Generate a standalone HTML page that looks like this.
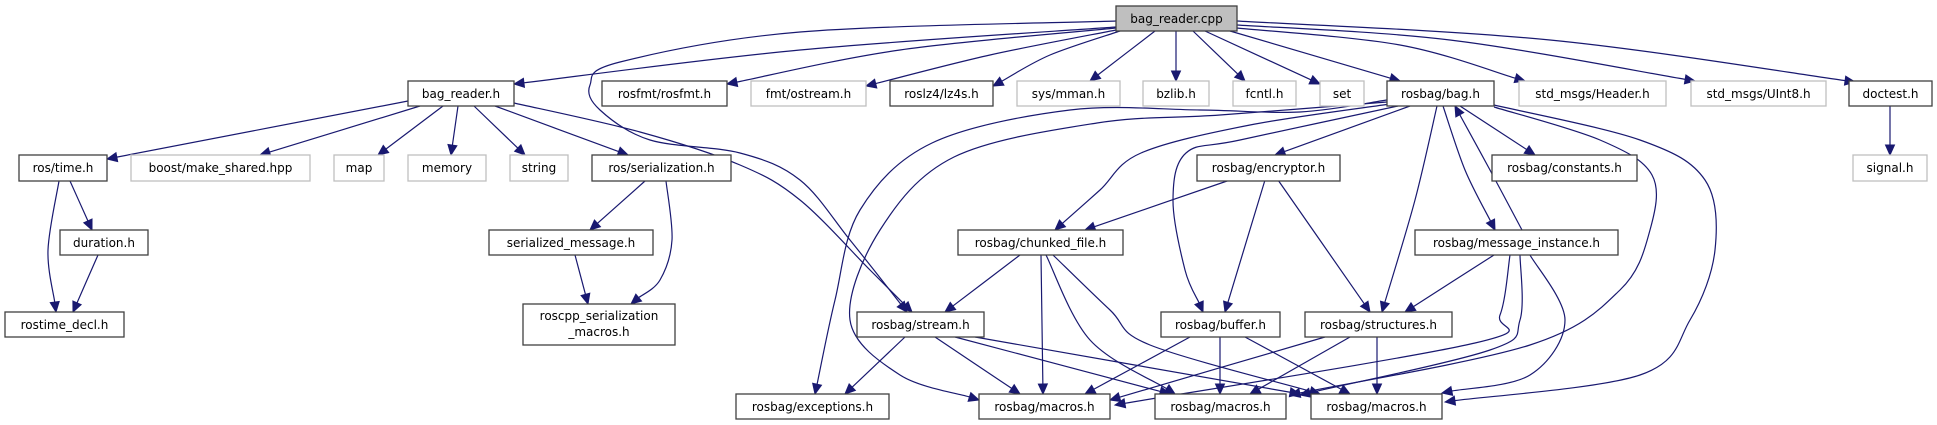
<!DOCTYPE html>
<html><head><meta charset="utf-8"><style>
html,body{margin:0;padding:0;background:#fff;}
svg{display:block;}
text{font-family:"DejaVu Sans","Liberation Sans",sans-serif;font-size:12px;fill:#000;text-anchor:middle;}
.b{fill:#fff;stroke:#404040;stroke-width:1.3;}
.g{fill:#fff;stroke:#bfbfbf;stroke-width:1.3;}
.r{fill:#bfbfbf;stroke:#404040;stroke-width:1.3;}
</style></head><body>
<svg id="s" width="1937" height="425" viewBox="0 0 1937 425" xmlns="http://www.w3.org/2000/svg">
<g id="edges"></g>
<g id="nodes">
<rect class="r" x="1116" y="6" width="121" height="25"/><text x="1176.5" y="23">bag_reader.cpp</text>

<rect class="b" x="408" y="81" width="106" height="25"/><text x="461" y="98">bag_reader.h</text>
<rect class="b" x="602" y="81" width="125" height="25"/><text x="664.5" y="98">rosfmt/rosfmt.h</text>
<rect class="g" x="751" y="81" width="115" height="25"/><text x="808.5" y="98">fmt/ostream.h</text>
<rect class="b" x="890" y="81" width="103" height="25"/><text x="941.5" y="98">roslz4/lz4s.h</text>
<rect class="g" x="1017" y="81" width="103" height="25"/><text x="1068.5" y="98">sys/mman.h</text>
<rect class="g" x="1143" y="81" width="66" height="25"/><text x="1176" y="98">bzlib.h</text>
<rect class="g" x="1233" y="81" width="63" height="25"/><text x="1264.5" y="98">fcntl.h</text>
<rect class="g" x="1320" y="81" width="44" height="25"/><text x="1342" y="98">set</text>
<rect class="b" x="1387" y="81" width="107" height="25"/><text x="1440.5" y="98">rosbag/bag.h</text>
<rect class="g" x="1519" y="81" width="147" height="25"/><text x="1592.5" y="98">std_msgs/Header.h</text>
<rect class="g" x="1691" y="81" width="135" height="25"/><text x="1758.5" y="98">std_msgs/UInt8.h</text>
<rect class="b" x="1849" y="81" width="83" height="25"/><text x="1890.5" y="98">doctest.h</text>

<rect class="b" x="19" y="155" width="88" height="26"/><text x="63" y="172">ros/time.h</text>
<rect class="g" x="131" y="155" width="179" height="26"/><text x="220.5" y="172">boost/make_shared.hpp</text>
<rect class="g" x="334" y="155" width="50" height="26"/><text x="359" y="172">map</text>
<rect class="g" x="408" y="155" width="78" height="26"/><text x="447" y="172">memory</text>
<rect class="g" x="510" y="155" width="58" height="26"/><text x="539" y="172">string</text>
<rect class="b" x="592" y="155" width="139" height="26"/><text x="661.5" y="172">ros/serialization.h</text>
<rect class="b" x="1197" y="155" width="143" height="26"/><text x="1268.5" y="172">rosbag/encryptor.h</text>
<rect class="b" x="1492" y="155" width="145" height="26"/><text x="1564.5" y="172">rosbag/constants.h</text>
<rect class="g" x="1853" y="155" width="74" height="26"/><text x="1890" y="172">signal.h</text>

<rect class="b" x="60" y="230" width="88" height="25"/><text x="104" y="247">duration.h</text>
<rect class="b" x="489" y="230" width="164" height="25"/><text x="571" y="247">serialized_message.h</text>
<rect class="b" x="958" y="230" width="165" height="25"/><text x="1040.5" y="247">rosbag/chunked_file.h</text>
<rect class="b" x="1415" y="230" width="203" height="25"/><text x="1516.5" y="247">rosbag/message_instance.h</text>

<rect class="b" x="5" y="312" width="119" height="25"/><text x="64.5" y="329">rostime_decl.h</text>
<rect class="b" x="523" y="304" width="152" height="41"/><text x="599" y="320">roscpp_serialization</text><text x="599" y="336">_macros.h</text>
<rect class="b" x="857" y="312" width="127" height="25"/><text x="920.5" y="329">rosbag/stream.h</text>
<rect class="b" x="1161" y="312" width="119" height="25"/><text x="1220.5" y="329">rosbag/buffer.h</text>
<rect class="b" x="1305" y="312" width="147" height="25"/><text x="1378.5" y="329">rosbag/structures.h</text>

<rect class="b" x="736" y="394" width="153" height="25"/><text x="812.5" y="411">rosbag/exceptions.h</text>
<rect class="b" x="979" y="394" width="131" height="25"/><text x="1044.5" y="411">rosbag/macros.h</text>
<rect class="b" x="1155" y="394" width="131" height="25"/><text x="1220.5" y="411">rosbag/macros.h</text>
<rect class="b" x="1311" y="394" width="131" height="25"/><text x="1376.5" y="411">rosbag/macros.h</text>
</g>
</svg>
<script>
var E=[
[[1116,27],[800,50],[514,84]],
[[1116,21],[800,32],[620,62],[590,85],[600,110],[650,140],[740,153],[800,180],[850,240],[907,312]],
[[514,103],[640,132],[740,165],[800,200],[870,270],[912,312]],
[[1116,28],[900,50],[727,84]],
[[1116,30],[990,55],[866,86]],
[[1120,31],[1050,55],[993,86]],
[[1155,31],[1090,81]],
[[1176,31],[1176,81]],
[[1193,31],[1245,81]],
[[1205,31],[1320,84]],
[[1230,31],[1400,81]],
[[1237,28],[1400,45],[1525,81]],
[[1237,25],[1450,40],[1695,81]],
[[1237,21],[1550,40],[1855,82]],
[[1890,106],[1890,155]],
[[408,101],[107,159]],
[[420,106],[260,155]],
[[443,106],[378,155]],
[[458,106],[451,155]],
[[474,106],[525,155]],
[[495,106],[628,155]],
[[70,181],[92,230]],
[[59,181],[48,250],[56,312]],
[[98,255],[73,312]],
[[645,181],[590,230]],
[[666,181],[672,240],[660,280],[631,304]],
[[575,255],[588,304]],
[[1387,100],[1300,112],[1200,110],[1070,110],[932,143],[860,210],[835,300],[815,394]],
[[1387,102],[1220,115],[1097,123],[954,157],[880,230],[850,320],[900,375],[979,400]],
[[1390,104],[1250,125],[1141,153],[1100,190],[1055,230]],
[[1410,106],[1275,155]],
[[1398,106],[1240,140],[1186,153],[1173,200],[1185,270],[1203,312]],
[[1437,106],[1415,200],[1382,312]],
[[1443,106],[1465,170],[1495,230]],
[[1522,230],[1490,170],[1455,106]],
[[1460,106],[1535,155]],
[[1494,107],[1600,140],[1652,175],[1650,230],[1620,290],[1530,345],[1290,395]],
[[1494,105],[1640,140],[1705,180],[1715,250],[1690,320],[1640,375],[1445,402]],
[[1494,255],[1405,312]],
[[1510,255],[1500,315],[1475,343],[1115,405]],
[[1520,255],[1520,320],[1490,350],[1300,395]],
[[1530,255],[1565,320],[1530,375],[1442,393]],
[[1230,180],[1085,230]],
[[1265,180],[1225,312]],
[[1278,180],[1370,312]],
[[1020,255],[945,312]],
[[1041,255],[1043,394]],
[[1046,255],[1090,340],[1175,394]],
[[1053,255],[1110,310],[1150,345],[1320,394]],
[[905,337],[845,394]],
[[935,337],[1020,394]],
[[955,337],[1170,394]],
[[975,337],[1300,394]],
[[1190,337],[1085,394]],
[[1220,337],[1220,394]],
[[1245,337],[1350,394]],
[[1325,337],[1110,400]],
[[1350,337],[1250,394]],
[[1377,337],[1377,394]]
];
var g=document.getElementById('edges'),h='';
E.forEach(function(p){
 var n=p.length,a=p[n-2],b=p[n-1],dx=b[0]-a[0],dy=b[1]-a[1],L=Math.sqrt(dx*dx+dy*dy),ux=dx/L,uy=dy/L,AL=10;
 var q=p.map(function(x){return x.slice();});
 q[n-1]=[b[0]-ux*AL,b[1]-uy*AL];
 var d='M'+q[0][0]+','+q[0][1];
 for(var i=0;i<n-1;i++){
  var p0=q[i-1]||q[i],p1=q[i],p2=q[i+1],p3=q[i+2]||q[i+1];
  var c1=[p1[0]+(p2[0]-p0[0])/6,p1[1]+(p2[1]-p0[1])/6],c2=[p2[0]-(p3[0]-p1[0])/6,p2[1]-(p3[1]-p1[1])/6];
  d+=' C'+c1[0]+','+c1[1]+' '+c2[0]+','+c2[1]+' '+p2[0]+','+p2[1];
 }
 h+='<path d="'+d+'" fill="none" stroke="#191970" stroke-width="1.2"/>';
 var bx=q[n-1][0],by=q[n-1][1],px=-uy*4.5,py=ux*4.5;
 h+='<polygon points="'+b[0]+','+b[1]+' '+(bx+px)+','+(by+py)+' '+(bx-px)+','+(by-py)+'" fill="#191970" stroke="#191970"/>';
});
g.innerHTML=h;
</script>
</body></html>
